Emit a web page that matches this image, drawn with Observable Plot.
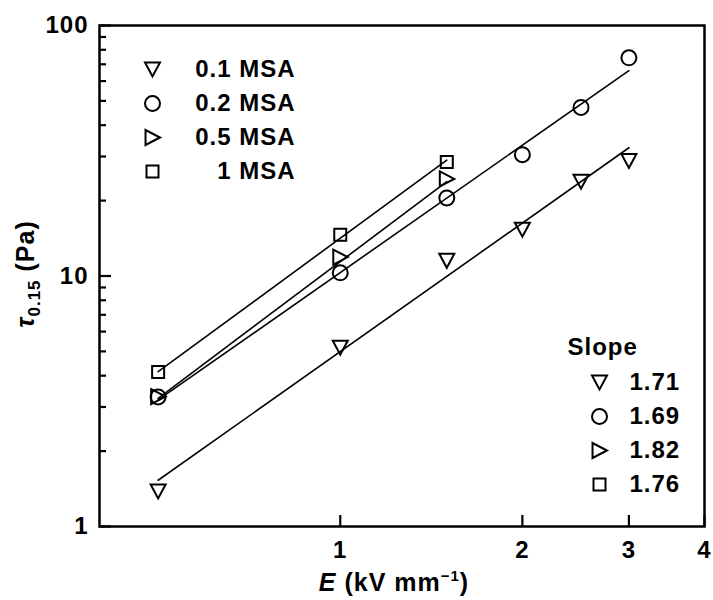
<!DOCTYPE html>
<html><head><meta charset="utf-8">
<script src="https://cdn.jsdelivr.net/npm/d3@7"></script>
<script src="https://cdn.jsdelivr.net/npm/@observablehq/plot@0.6"></script>
<style>body{margin:0;background:#fff} svg text{letter-spacing:1px}</style>
</head><body><div id="chart"></div>
<script>
// ---- data ----
const seriesNames = ["0.1 MSA", "0.2 MSA", "0.5 MSA", "1 MSA"];
const slopeLabels = ["1.71", "1.69", "1.82", "1.76"];
const E01 = [0.5, 1, 1.5, 2, 2.5, 3];
const tau01 = [1.38, 5.17, 11.5, 15.3, 23.8, 28.8];
const E02 = [0.5, 1, 1.5, 2, 2.5, 3];
const tau02 = [3.29, 10.3, 20.5, 30.5, 47.1, 74.3];
const E05 = [0.5, 1, 1.5];
const tau05 = [3.3, 11.9, 24.4];
const E1 = [0.5, 1, 1.5];
const tau1 = [4.14, 14.6, 28.5];
// fitted power-law lines (end points)
const fitE01 = [0.5, 3], fitTau01 = [1.53, 32.5];
const fitE02 = [0.5, 3], fitTau02 = [3.2, 66];
const fitE05 = [0.5, 1.5], fitTau05 = [3.25, 23.8];
const fitE1 = [0.5, 1.5], fitTau1 = [4.15, 29.0];
const xTicks = [1, 2, 3, 4];
const yTicks = [1, 10, 100];
const yMinor = [2, 3, 4, 5, 6, 7, 8, 9, 20, 30, 40, 50, 60, 70, 80, 90];

// ---- symbols ----
const R = s => Math.sqrt(s / Math.PI);
const triDown = {draw(c, s) { const r = R(s); c.moveTo(-r, -0.93 * r); c.lineTo(r, -0.93 * r); c.lineTo(0, 0.93 * r); c.closePath(); }};
const circ = {draw(c, s) { const r = R(s); c.moveTo(r, 0); c.arc(0, 0, r, 0, 2 * Math.PI); c.closePath(); }};
const triRight = {draw(c, s) { const r = R(s); c.moveTo(-0.93 * r, -r); c.lineTo(r, 0); c.lineTo(-0.93 * r, r); c.closePath(); }};
const sq = {draw(c, s) { const r = R(s); const h = 0.8 * r; c.rect(-h, -h, 2 * h, 2 * h); }};
const symbols = [triDown, circ, triRight, sq];

const series = [
  {E: E01, tau: tau01, fE: fitE01, fT: fitTau01},
  {E: E02, tau: tau02, fE: fitE02, fT: fitTau02},
  {E: E05, tau: tau05, fE: fitE05, fT: fitTau05},
  {E: E1, tau: tau1, fE: fitE1, fT: fitTau1}
].map((s, i) => ({...s, name: seriesNames[i], slope: slopeLabels[i], symbol: symbols[i]}));

const pts = s => s.E.map((e, j) => ({E: e, tau: s.tau[j]}));
const fit = s => s.fE.map((e, j) => ({E: e, tau: s.fT[j]}));

const dotStyle = {r: 7.5, fill: "none", stroke: "black", strokeWidth: 2};
const marks = [
  Plot.frame({strokeWidth: 2.5, stroke: "black", fill: "none"}),
  // inward ticks: positive size, shifted inside the frame
  Plot.axisY(yMinor, {tickSize: 7, dx: 7, tickFormat: () => "", stroke: "black", strokeWidth: 2.2, label: null}),
  Plot.axisY(yTicks, {tickSize: 12, dx: 12, tickFormat: () => "", stroke: "black", strokeWidth: 2.2, label: null}),
  Plot.axisX(xTicks, {tickSize: 11, dy: -11, tickFormat: () => "", stroke: "black", strokeWidth: 2.2, label: null}),
  Plot.axisY(yTicks, {tickSize: 0, tickPadding: 11, tickFormat: d => String(d), label: null}),
  Plot.axisX(xTicks, {tickSize: 0, tickPadding: 14, tickFormat: d => String(d), label: null})
];
series.forEach((s, i) => {
  marks.push(Plot.line(fit(s), {x: "E", y: "tau", stroke: "black", strokeWidth: 1.6}));
  marks.push(Plot.dot(pts(s), {x: "E", y: "tau", symbol: s.symbol, ...dotStyle}));
  // legend 1 (top-left)
  marks.push(Plot.dot([s], {frameAnchor: "top-left", dx: 53, dy: 44 + 34 * i, symbol: s.symbol, ...dotStyle}));
  marks.push(Plot.text([s], {frameAnchor: "top-left", dx: 196, dy: 44 + 34 * i, text: "name", textAnchor: "end", lineAnchor: "middle"}));
  // legend 2 (bottom-right, slopes)
  marks.push(Plot.dot([s], {frameAnchor: "bottom-right", dx: -105, dy: -144 + 34 * i, symbol: s.symbol, ...dotStyle}));
  marks.push(Plot.text([s], {frameAnchor: "bottom-right", dx: -75, dy: -144 + 34 * i, text: "slope", textAnchor: "start", lineAnchor: "middle"}));
});
marks.push(Plot.text(["Slope"], {frameAnchor: "bottom-right", dx: -137, dy: -179, text: d => d, textAnchor: "start", lineAnchor: "middle"}));

const chart = Plot.plot({
  width: 713, height: 600,
  marginLeft: 99, marginRight: 9, marginTop: 25, marginBottom: 74,
  style: {fontFamily: "'Liberation Sans', Arial, sans-serif", fontSize: "24px", fontWeight: "bold", color: "black", background: "white"},
  x: {type: "log", domain: [0.4, 4], label: null},
  y: {type: "log", domain: [1, 100], label: null},
  marks
});
document.getElementById("chart").appendChild(chart);

// axis titles with sub/superscripts
const svg = d3.select(chart);
const yl = svg.append("text").attr("transform", "translate(34,274) rotate(-90)")
  .attr("text-anchor", "middle").attr("font-size", 25).attr("font-weight", "bold").attr("fill", "black");
yl.append("tspan").attr("font-style", "italic").text("τ");
yl.append("tspan").attr("font-size", 17).attr("dy", 6).text("0.15");
yl.append("tspan").attr("dy", -6).text(" (Pa)");
const xl = svg.append("text").attr("x", 394).attr("y", 591)
  .attr("text-anchor", "middle").attr("font-size", 25).attr("font-weight", "bold").attr("fill", "black");
xl.append("tspan").attr("font-style", "italic").text("E");
xl.append("tspan").text(" (kV mm");
xl.append("tspan").attr("font-size", 15).attr("dy", -10).text("−1");
xl.append("tspan").attr("dy", 10).text(")");
</script>
</body></html>
